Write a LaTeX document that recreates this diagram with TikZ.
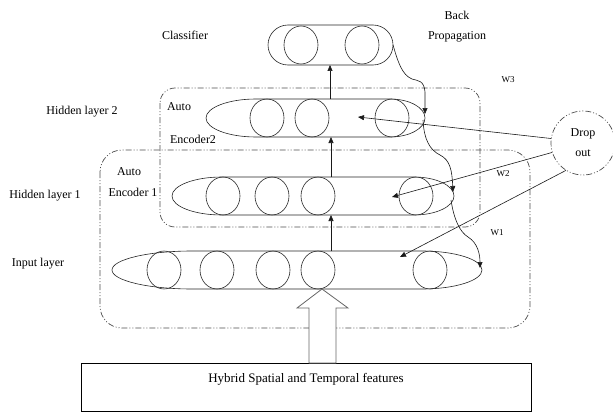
\documentclass[tikz,border=0pt]{standalone}
\usepackage{fontspec}
\setmainfont{Liberation Serif}
\usetikzlibrary{arrows.meta,calc}
\newcommand\LayerShape[6]{%
  \draw[lay] (#1,{(#3+#4)/2}) .. controls (#1,{(#3+#4)/2-0.276*(#4-#3)}) and ({#1+0.448*#5},#3) .. ({#1+#5},#3)
    -- ({#2-#6},#3) .. controls ({#2-0.448*#6},#3) and (#2,{(#3+#4)/2-0.276*(#4-#3)}) .. (#2,{(#3+#4)/2})
    .. controls (#2,{(#3+#4)/2+0.276*(#4-#3)}) and ({#2-0.448*#6},#4) .. ({#2-#6},#4)
    -- ({#1+#5},#4) .. controls ({#1+0.448*#5},#4) and (#1,{(#3+#4)/2+0.276*(#4-#3)}) .. cycle;}
\begin{document}
\begin{tikzpicture}[x=1pt,y=-1pt,
  lay/.style={draw=black!85, line width=0.6pt},
  neur/.style={draw=black!85, line width=0.6pt},
  dd/.style={draw=black!70, line width=0.7pt, dash pattern=on 6pt off 2pt on 1pt off 2pt on 1pt off 2pt},
  arr/.style={draw=black!90, line width=0.6pt, -{Triangle[length=6pt,width=5pt]}},
  lbl/.style={font=\fontsize{12}{14}\selectfont, inner sep=0pt},
  wlbl/.style={font=\fontsize{9}{11}\selectfont, inner sep=0pt}
]
\useasboundingbox (0,0) rectangle (613,412);

% dash-dot boxes
\draw[dd, rounded corners=22] (100,150) rectangle (530,328);
\draw[dd, rounded corners=15] (160,88) rectangle (480,227);

% classifier
\draw[lay, rounded corners=20] (268,25) rectangle (393,65);
\foreach \x in {301,362} \draw[neur] (\x,45) ellipse [x radius=17, y radius=19];
\coordinate (clsB) at (330,65);
\coordinate (clsE) at (393,45);

% hidden layer 2
\LayerShape{206}{425}{99}{137}{50}{35}
\foreach \x in {267,312,392} \draw[neur] (\x,118) ellipse [x radius=17, y radius=19];
\coordinate (h2T) at (330,99);
\coordinate (h2B) at (331,137);
\coordinate (h2E) at (425,114);
\coordinate (h2D) at (358,117);
\coordinate (h2S) at (423,120);

% hidden layer 1
\LayerShape{172}{454}{177}{215}{50}{40}
\foreach \x in {223,272,318,416} \draw[neur] (\x,196) ellipse [x radius=17, y radius=19];
\coordinate (h1T) at (331,177);
\coordinate (h1B) at (331,215);
\coordinate (h1E) at (453,192);
\coordinate (h1D) at (392,197);
\coordinate (h1S) at (451,200);

% input layer
\LayerShape{112}{482}{251}{289}{80}{60}
\foreach \x in {164,217,273,318,430} \draw[neur] (\x,270) ellipse [x radius=17, y radius=19];
\coordinate (inT) at (331,251);
\coordinate (inE) at (480,268);
\coordinate (inD) at (400,257);

% vertical arrows
\draw[arr] (inT) -- (h1B);
\draw[arr] (h1T) -- (h2B);
\draw[arr] (h2T) -- (clsB);

% back propagation path
\draw[arr] (clsE) .. controls (398,62) and (402,75) .. (412,79)
  .. controls (418,81) and (424,80) .. (425,92) -- (h2E);
\draw[arr] (h2S) .. controls (424,140) and (430,150) .. (440,155)
  .. controls (450,160) and (452,170) .. (h1E);
\draw[arr] (h1S) .. controls (454,220) and (460,232) .. (468,237)
  .. controls (478,243) and (480,255) .. (inE);

% dropout
\node[dd, circle, minimum size=64pt, inner sep=0pt, align=center,
  font=\fontsize{12}{20}\selectfont] (drop) at (583,143) {Drop\\out};
\draw[arr] (drop.172) -- (h2D);
\draw[arr] (drop.197) -- (h1D);
\draw[arr] (drop.238) -- (inD);

% big hollow arrow from features box
\node[draw=black, line width=0.7pt, minimum width=450pt, minimum height=48pt, inner sep=0pt] (feat) at (306,387) {};
\node[lbl, font=\fontsize{13}{15}\selectfont] (featT) at (306,379) {Hybrid Spatial and Temporal features};
\draw[draw=black!60, line width=0.8pt, fill=white]
  ($(feat.north)+(3,0)$) coordinate (a1) -- (309,308) -- (297,308) -- (322,289) -- (348,308) -- (336,308) -- (336,363) -- (309,363) -- cycle;

% labels
\node[lbl] (lcls) at (185,35) {Classifier};
\node[lbl, align=center, font=\fontsize{12}{20}\selectfont] (lbp) at (457,27) {Back\\Propagation};
\node[lbl] (lh2) at (82,112) {Hidden layer 2};
\node[lbl] (lh1) at (45,196) {Hidden layer 1};
\node[lbl] (lin) at (38,264) {Input layer};
\node[lbl] (la2a) at (179,107) {Auto};
\node[lbl] (la2b) at (193,139) {Encoder2};
\node[lbl] (la1a) at (129,172) {Auto};
\node[lbl] (la1b) at (133,192) {Encoder 1};
\node[wlbl] (w3) at (508,80) {W3};
\node[wlbl] (w2) at (503,174) {W2};
\node[wlbl] (w1) at (497,233) {W1};
\end{tikzpicture}
\end{document}
